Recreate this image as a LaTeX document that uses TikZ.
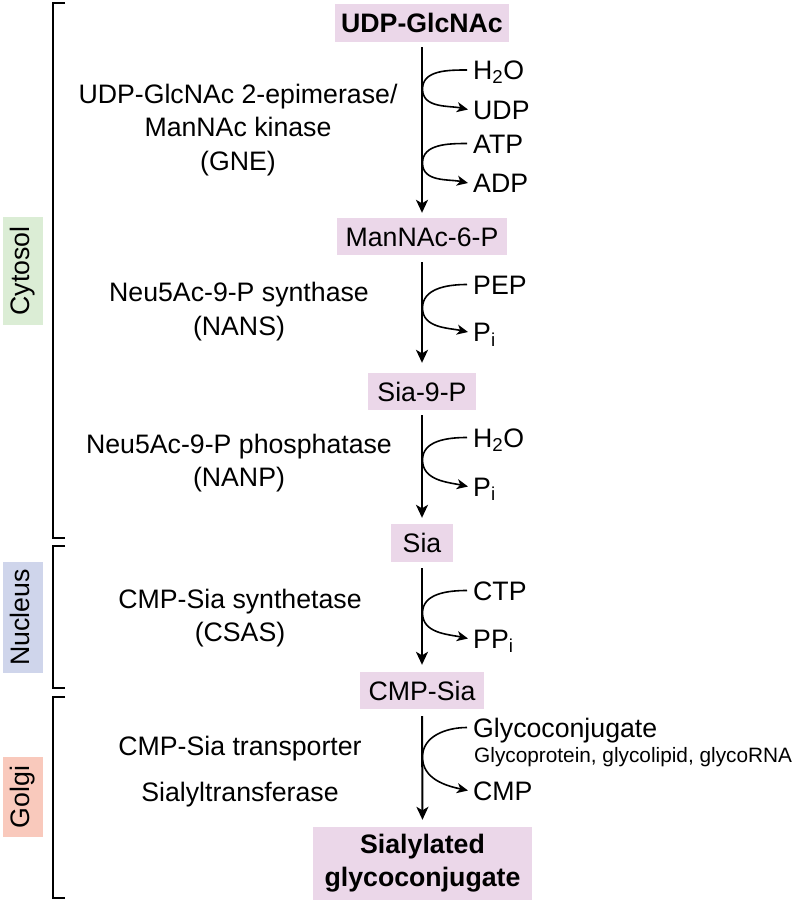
\documentclass[tikz,border=0pt]{standalone}
\usepackage{fontspec}
\setmainfont{Liberation Sans}
\usetikzlibrary{arrows.meta}
\definecolor{boxpink}{HTML}{EBD7E9}
\definecolor{cytgreen}{HTML}{DBEDD5}
\definecolor{nucblue}{HTML}{CFD5EB}
\definecolor{golgired}{HTML}{F9C9BC}
\begin{document}
\begin{tikzpicture}[x=1pt,y=1pt,
  txt/.style={inner sep=0pt, font=\fontsize{26.7}{34}\selectfont},
  small/.style={inner sep=0pt, font=\fontsize{20.8}{24}\selectfont},
  metab/.style={fill=boxpink, inner sep=0pt, font=\fontsize{26.7}{33}\selectfont,
    text height=19.1pt, text depth=0pt},
  region/.style={rotate=90, inner sep=0pt, minimum height=40pt,
    font=\fontsize{26.7}{30}\selectfont, text height=19.1pt, text depth=7pt},
  mainarrow/.style={line width=2pt, -{Stealth[length=13pt,width=12pt,inset=3.5pt]}},
  sidearrow/.style={line width=1.6pt, -{Stealth[length=11pt,width=10pt,inset=3pt]}},
  bracket/.style={line width=1.2pt}
]
\useasboundingbox (0,0) rectangle (794,-903);

% metabolite boxes
\node[metab, minimum width=174pt, minimum height=38pt] (udp) at (422,-23) {\bfseries UDP-GlcNAc};
\node[metab, minimum width=170pt, minimum height=37pt] (mannac) at (422,-236.5) {ManNAc-6-P};
\node[metab, minimum width=108pt, minimum height=37pt] (sia9p) at (422,-391.5) {Sia-9-P};
\node[metab, minimum width=62pt, minimum height=38pt] (sia) at (422,-543) {Sia};
\node[metab, minimum width=124pt, minimum height=37pt] (cmpsia) at (422,-690.5) {CMP-Sia};
\node[metab, minimum width=219pt, minimum height=73pt] (final) at (422.5,-863.5) {};
\node[txt, anchor=base] (finalA) at (422.5,-853) {\bfseries Sialylated};
\node[txt, anchor=base] (finalB) at (422.5,-886) {\bfseries glycoconjugate};

% main arrows
\draw[mainarrow, shorten <=5pt, shorten >=5pt] (udp.south) -- (mannac.north);
\draw[mainarrow, shorten <=7pt, shorten >=10pt] (mannac.south) -- (sia9p.north);
\draw[mainarrow, shorten <=5pt, shorten >=6pt] (sia9p.south) -- (sia.north);
\draw[mainarrow, shorten <=6pt, shorten >=7pt] (sia.south) -- (cmpsia.north);
\draw[mainarrow, shorten <=7pt, shorten >=7pt] (cmpsia.south) -- (final.north);

% side labels (reactants/products)
\node[txt, anchor=base west] (r1) at (473,-79.5) {H\textsubscript{2}O};
\node[txt, anchor=base west] (p1) at (473,-119) {UDP};
\node[txt, anchor=base west] (r2) at (473,-153) {ATP};
\node[txt, anchor=base west] (p2) at (473,-192.5) {ADP};
\node[txt, anchor=base west] (r3) at (473,-294) {PEP};
\node[txt, anchor=base west] (p3) at (473,-341.5) {P\textsubscript{i}};
\node[txt, anchor=base west] (r4) at (473,-447) {H\textsubscript{2}O};
\node[txt, anchor=base west] (p4) at (473,-496) {P\textsubscript{i}};
\node[txt, anchor=base west] (r5) at (473,-600) {CTP};
\node[txt, anchor=base west] (p5) at (473,-648) {PP\textsubscript{i}};
\node[txt, anchor=base west] (r6) at (473,-737) {Glycoconjugate};
\node[small, anchor=base west] (r6s) at (474,-762) {Glycoprotein, glycolipid, glycoRNA};
\node[txt, anchor=base west] (p6) at (473,-800) {CMP};

% touch points on main line
\coordinate (t1) at (422.5,-89);
\coordinate (t2) at (422.5,-163);
\coordinate (t3) at (422.5,-308);
\coordinate (t4) at (422.5,-460);
\coordinate (t5) at (422.5,-613);
\coordinate (t6) at (422.5,-757);

\foreach \i in {1,...,6}{
  \draw[sidearrow] ([xshift=-6pt,yshift=9.5pt]r\i.base west) to[out=180,in=90] (t\i)
    to[out=-90,in=168] ([xshift=-5pt,yshift=9.5pt]p\i.base west);
}

% enzyme labels
\node[txt, anchor=base] (e1a) at (238,-103) {UDP-GlcNAc 2-epimerase/};
\node[txt, anchor=base] (e1b) at (238,-136.5) {ManNAc kinase};
\node[txt, anchor=base] (e1c) at (238,-170.5) {(GNE)};
\node[txt, anchor=base] (e2a) at (239,-301) {Neu5Ac-9-P synthase};
\node[txt, anchor=base] (e2b) at (239,-335) {(NANS)};
\node[txt, anchor=base] (e3a) at (239,-453) {Neu5Ac-9-P phosphatase};
\node[txt, anchor=base] (e3b) at (239,-486) {(NANP)};
\node[txt, anchor=base] (e4a) at (240,-608) {CMP-Sia synthetase};
\node[txt, anchor=base] (e4b) at (240,-641) {(CSAS)};
\node[txt, anchor=base] (e5a) at (240,-755) {CMP-Sia transporter};
\node[txt, anchor=base] (e5b) at (240,-801) {Sialyltransferase};

% compartment brackets
\draw[bracket] (65,-3) -- (53,-3) -- (53,-538) -- (65,-538);
\draw[bracket] (65,-546) -- (53,-546) -- (53,-688) -- (65,-688);
\draw[bracket] (65,-697) -- (53,-697) -- (53,-898) -- (65,-898);

% compartment labels
\node[region, fill=cytgreen, minimum width=108pt] (cyt) at (23,-271) {Cytosol};
\node[region, fill=nucblue, minimum width=111pt] (nuc) at (23,-617.5) {Nucleus};
\node[region, fill=golgired, minimum width=80pt] (gol) at (23,-797) {Golgi};
\end{tikzpicture}
\end{document}
